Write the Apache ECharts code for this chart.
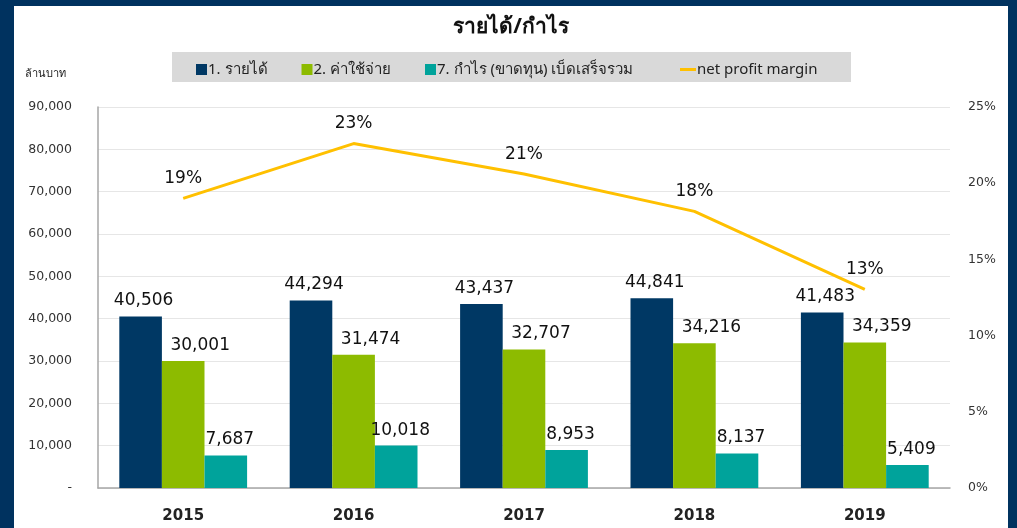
<!DOCTYPE html>
<html>
<head>
<meta charset="utf-8">
<script src="https://cdn.jsdelivr.net/npm/echarts@6/dist/echarts.min.js"></script>
<style>
html,body{margin:0;padding:0;background:#00325F;width:1017px;height:528px;overflow:hidden;}
#chart{position:absolute;left:14px;top:6px;width:994px;height:522px;background:#fff;}
</style>
</head>
<body>
<div id="chart"></div>
<script>
const years = ['2015','2016','2017','2018','2019'];
const revenue = [40506, 44294, 43437, 44841, 41483];
const expense = [30001, 31474, 32707, 34216, 34359];
const profit = [7687, 10018, 8953, 8137, 5409];
const margin = [0.19, 0.226, 0.206, 0.1815, 0.1304];
const seriesNames = ['1. รายได้', '2. ค่าใช้จ่าย', '7. กำไร (ขาดทุน) เบ็ดเสร็จรวม', 'net profit margin'];
const colors = ['#003864', '#8DBB00', '#00A39B', '#FFC000'];
const FONT = 'DejaVu Sans, Verdana, sans-serif';
const TFONT = 'Noto Sans, sans-serif';

const chart = echarts.init(document.getElementById('chart'));
function barLabel(dx) {
  return {show:true, position:'top', distance:7, offset:[dx,0], color:'#111', fontSize:17, fontFamily:FONT,
    formatter: p => p.value.toLocaleString('en-US')};
}
chart.setOption({
  animation:false,
  backgroundColor:'#fff',
  color: colors,
  title:{text:'รายได้/กำไร', left:'center', top:6,
    textStyle:{fontSize:21, fontWeight:'bold', color:'#111', fontFamily:TFONT}},
  graphic:[
    {type:'rect', left:158, top:46, shape:{width:679, height:30}, style:{fill:'#D9D9D9'}, z:-1},
    {type:'text', left:11, top:62, style:{text:'ล้านบาท', fontSize:11, fill:'#222', fontFamily:TFONT}}
  ],
  legend:[
    {
      top:56, left:182, padding:0, itemWidth:11, itemHeight:11, itemGap:34,
      data:[
        {name:seriesNames[0], icon:'rect'},
        {name:seriesNames[1], icon:'rect'},
        {name:seriesNames[2], icon:'rect'}
      ],
      textStyle:{fontSize:15, color:'#222', fontFamily:TFONT, padding:[0,0,0,-4]}
    },
    {
      top:56, left:666, padding:0, itemWidth:16, itemHeight:3,
      data:[{name:seriesNames[3], icon:'rect', itemStyle:{color:'#FFC000', opacity:1}}],
      textStyle:{fontSize:15, color:'#222', fontFamily:TFONT, padding:[0,0,0,-4]}
    }
  ],
  grid:{left:84, right:58, top:101, bottom:40},
  xAxis:{type:'category', data:years,
    axisLine:{lineStyle:{color:'#A6A6A6', width:1.5}}, axisTick:{show:false},
    axisLabel:{margin:21, fontSize:15, fontWeight:'bold', color:'#222', fontFamily:FONT}},
  yAxis:[
    {type:'value', min:0, max:90000, interval:10000,
      axisLine:{show:true, lineStyle:{color:'#A6A6A6', width:1.5}},
      splitLine:{lineStyle:{color:'#E6E6E6'}},
      axisLabel:{margin:26, fontSize:12.5, color:'#333', fontFamily:FONT,
        formatter: v => v === 0 ? '-' : v.toLocaleString('en-US')}},
    {type:'value', min:0, max:0.25, interval:0.05,
      axisLine:{show:false}, splitLine:{show:false},
      axisLabel:{margin:18, fontSize:12.5, color:'#333', fontFamily:FONT,
        formatter: v => Math.round(v*100) + '%'}}
  ],
  series:[
    {name:seriesNames[0], type:'bar', data:revenue, barGap:'0%', barCategoryGap:'25%', label:barLabel(3)},
    {name:seriesNames[1], type:'bar', data:expense, label:barLabel(17)},
    {name:seriesNames[2], type:'bar', data:profit, label:barLabel(4)},
    {name:seriesNames[3], type:'line', yAxisIndex:1, data:margin,
      symbol:'circle', symbolSize:0.1, showSymbol:true,
      itemStyle:{color:'#FFC000'},
      lineStyle:{width:3, color:'#FFC000'},
      label:{show:true, position:'top', distance:11, color:'#111', fontSize:17, fontFamily:FONT,
        formatter: p => Math.round(p.value*100) + '%'}}
  ]
});
</script>
</body>
</html>
